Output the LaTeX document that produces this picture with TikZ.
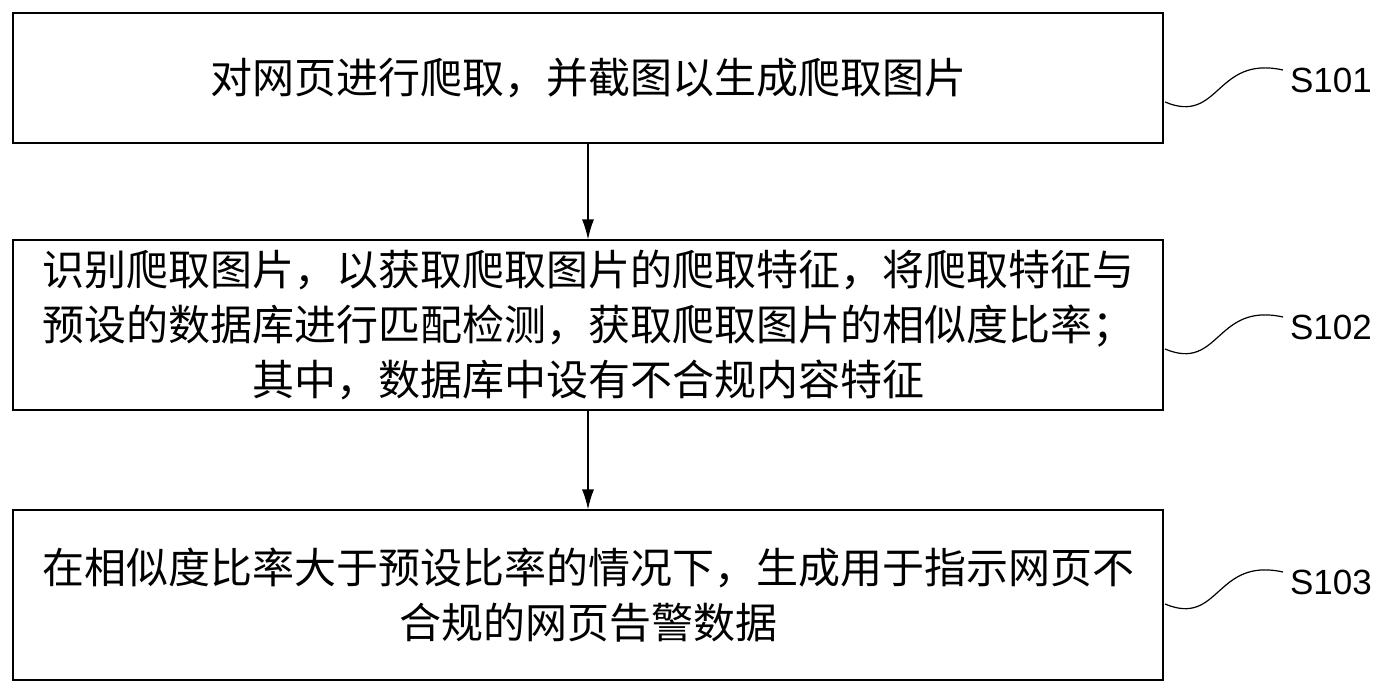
\documentclass[tikz,border=0pt]{standalone}
\usepackage{fontspec}
\setmainfont{Liberation Sans}
\newfontfamily\cjk{Noto Sans CJK SC}
\usetikzlibrary{arrows.meta}
\tikzset{step box/.style={draw, line width=0.6pt, minimum width=575pt, align=center, font=\cjk\fontsize{21}{27.5}\selectfont},
    flow arrow/.style={-{Latex[length=10pt, width=6pt]}, line width=0.6pt},
    step label/.style={anchor=west, font=\fontsize{17.5}{20}\selectfont},
    squiggle/.style={line width=0.6pt},
}
\begin{document}
\begin{tikzpicture}[x=0.5pt, y=-0.5pt]
	\useasboundingbox (0, 0) rectangle (1386, 687);
	% boxes
	\node[step box, minimum height=65pt] (s1) at (588, 78) {对网页进行爬取，并截图以生成爬取图片};
	\node[step box, minimum height=85pt] (s2) at (588, 325) {识别爬取图片，以获取爬取图片的爬取特征，将爬取特征与\\预设的数据库进行匹配检测，获取爬取图片的相似度比率；\\其中，数据库中设有不合规内容特征};
	\node[step box, minimum height=85pt] (s3) at (588, 595) {在相似度比率大于预设比率的情况下，生成用于指示网页不\\合规的网页告警数据};
	% arrows
	\draw[flow arrow] (s1) -- (s2);
	\draw[flow arrow] (s2) -- (s3);
	% labels
	\node[step label] (l1) at (1283, 80) {S101};
	\node[step label] (l2) at (1283, 327) {S102};
	\node[step label] (l3) at (1283, 582) {S103};
	\foreach \n / \y in {1/70, 2/317, 3/572} {
		\draw[squiggle] (1165, \y+32) .. controls (1220, \y+55) and (1215, \y-15) .. (1283, \y);
	}
\end{tikzpicture}
\end{document}
